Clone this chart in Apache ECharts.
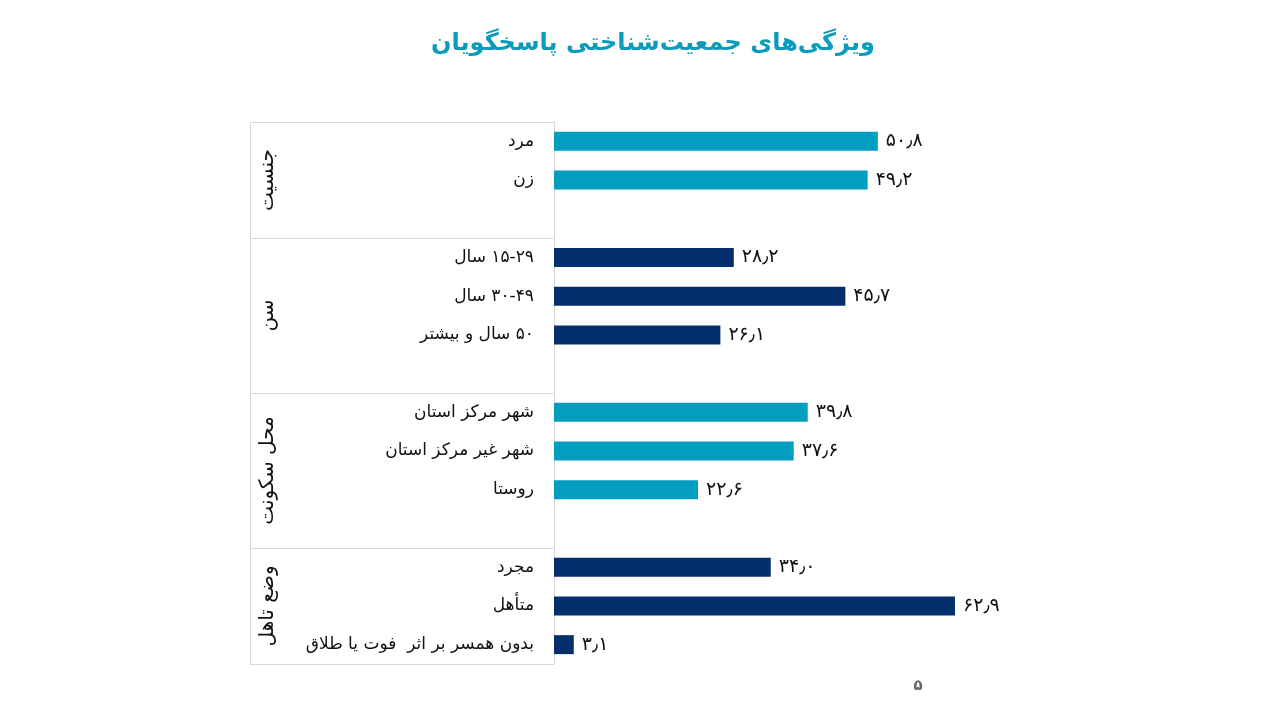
<!DOCTYPE html>
<html lang="fa">
<head>
<meta charset="utf-8">
<title>ویژگی‌های جمعیت‌شناختی پاسخگویان</title>
<script src="https://cdn.jsdelivr.net/npm/echarts@6/dist/echarts.min.js"></script>
<style>
  html, body { margin: 0; padding: 0; background: #fff; }
  #chart { width: 1280px; height: 720px; }
</style>
</head>
<body>
<!-- rtl so the canvas lays out Persian text with an rtl base direction -->
<div id="chart" dir="rtl"></div>
<script>
// groups shown on the left, rotated
const groups = ["جنسیت", "سن", "محل سکونت", "وضع تاهل"];
const genderItems = ["مرد", "زن"];
const genderValues = [50.8, 49.2];
const ageItems = ["۱۵-۲۹ سال", "۳۰-۴۹ سال", "۵۰ سال و بیشتر"];
const ageValues = [28.2, 45.7, 26.1];
const placeItems = ["شهر مرکز استان", "شهر غیر مرکز استان", "روستا"];
const placeValues = [39.8, 37.6, 22.6];
const maritalItems = ["مجرد", "متأهل", "بدون همسر بر اثر  فوت یا طلاق"];
const maritalValues = [34.0, 62.9, 3.1];

const groupItems = [genderItems, ageItems, placeItems, maritalItems];
const groupValues = [genderValues, ageValues, placeValues, maritalValues];
const colors = ["#039dbf", "#032f6c"];

const faDigits = "۰۱۲۳۴۵۶۷۸۹";
function toFa(v) {
  return v.toFixed(1).replace(/\d/g, d => faDigits[+d]).replace(".", "٫");
}

// flatten with an empty slot after each group (except the last)
const categories = [];
const barData = [];
const blankIdx = [];
groupItems.forEach((items, g) => {
  items.forEach((name, i) => {
    categories.push(name);
    barData.push({ value: groupValues[g][i], itemStyle: { color: colors[g % 2] } });
  });
  if (g < groupItems.length - 1) {
    blankIdx.push(categories.length);
    categories.push(" ".repeat(g + 1));
    barData.push("-");
  }
});

const font = "DejaVu Sans";
const chart = echarts.init(document.getElementById("chart"));

chart.setOption({
  backgroundColor: "#fff",
  animation: false,
  title: {
    text: "ویژگی‌های جمعیت‌شناختی پاسخگویان",
    left: 648,
    top: 27,
    textAlign: "center",
    textStyle: { color: "#0b9cbc", fontSize: 24, fontWeight: "bolder", fontFamily: font }
  },
  grid: { left: 554, right: 88.5, top: 122, bottom: 56 },
  xAxis: {
    type: "value",
    min: 0,
    max: 100,
    show: false
  },
  yAxis: {
    type: "category",
    data: categories,
    inverse: true,
    axisLine: { show: true, lineStyle: { color: "#d9d9d9", width: 1 } },
    axisTick: { show: false },
    axisLabel: {
      margin: 20,
      fontSize: 17,
      color: "#111",
      fontFamily: font,
      padding: [0, 0, 6, 0]
    }
  },
  series: [{
    type: "bar",
    data: barData,
    barWidth: 19,
    label: {
      show: true,
      position: "right",
      distance: 8,
      fontSize: 19,
      color: "#111",
      fontFamily: font,
      formatter: p => toFa(p.value)
    }
  }]
});

// table lines and group names on the left, placed from the axis scale
const y0 = chart.convertToPixel({ yAxisIndex: 0 }, 0);
const y1 = chart.convertToPixel({ yAxisIndex: 0 }, 1);
const band = y1 - y0;
const axisX = chart.convertToPixel({ xAxisIndex: 0 }, 0);
const tableLeft = 250;
const lineColor = "#d9d9d9";

const bounds = [y0 - band / 2];
blankIdx.forEach(i => bounds.push(chart.convertToPixel({ yAxisIndex: 0 }, i) + band / 2));
bounds.push(chart.convertToPixel({ yAxisIndex: 0 }, categories.length - 1) + band / 2);

const graphics = [];
bounds.forEach(y => {
  graphics.push({
    type: "line",
    shape: { x1: tableLeft, y1: Math.round(y) + 0.5, x2: axisX, y2: Math.round(y) + 0.5 },
    style: { stroke: lineColor, lineWidth: 1 }
  });
});
graphics.push({
  type: "line",
  shape: { x1: tableLeft + 0.5, y1: bounds[0], x2: tableLeft + 0.5, y2: bounds[bounds.length - 1] },
  style: { stroke: lineColor, lineWidth: 1 }
});
groups.forEach((name, g) => {
  graphics.push({
    type: "text",
    x: 268,
    y: (bounds[g] + bounds[g + 1]) / 2,
    rotation: Math.PI / 2,
    style: {
      text: name,
      fontSize: 20,
      fontFamily: font,
      fill: "#111",
      align: "center",
      verticalAlign: "middle"
    }
  });
});
graphics.push({
  type: "text",
  x: 918,
  y: 686,
  style: { text: "۵", fontSize: 15, fontWeight: "bold", fontFamily: font, fill: "#666", align: "center", verticalAlign: "middle" }
});

chart.setOption({ graphic: graphics });
</script>
</body>
</html>
